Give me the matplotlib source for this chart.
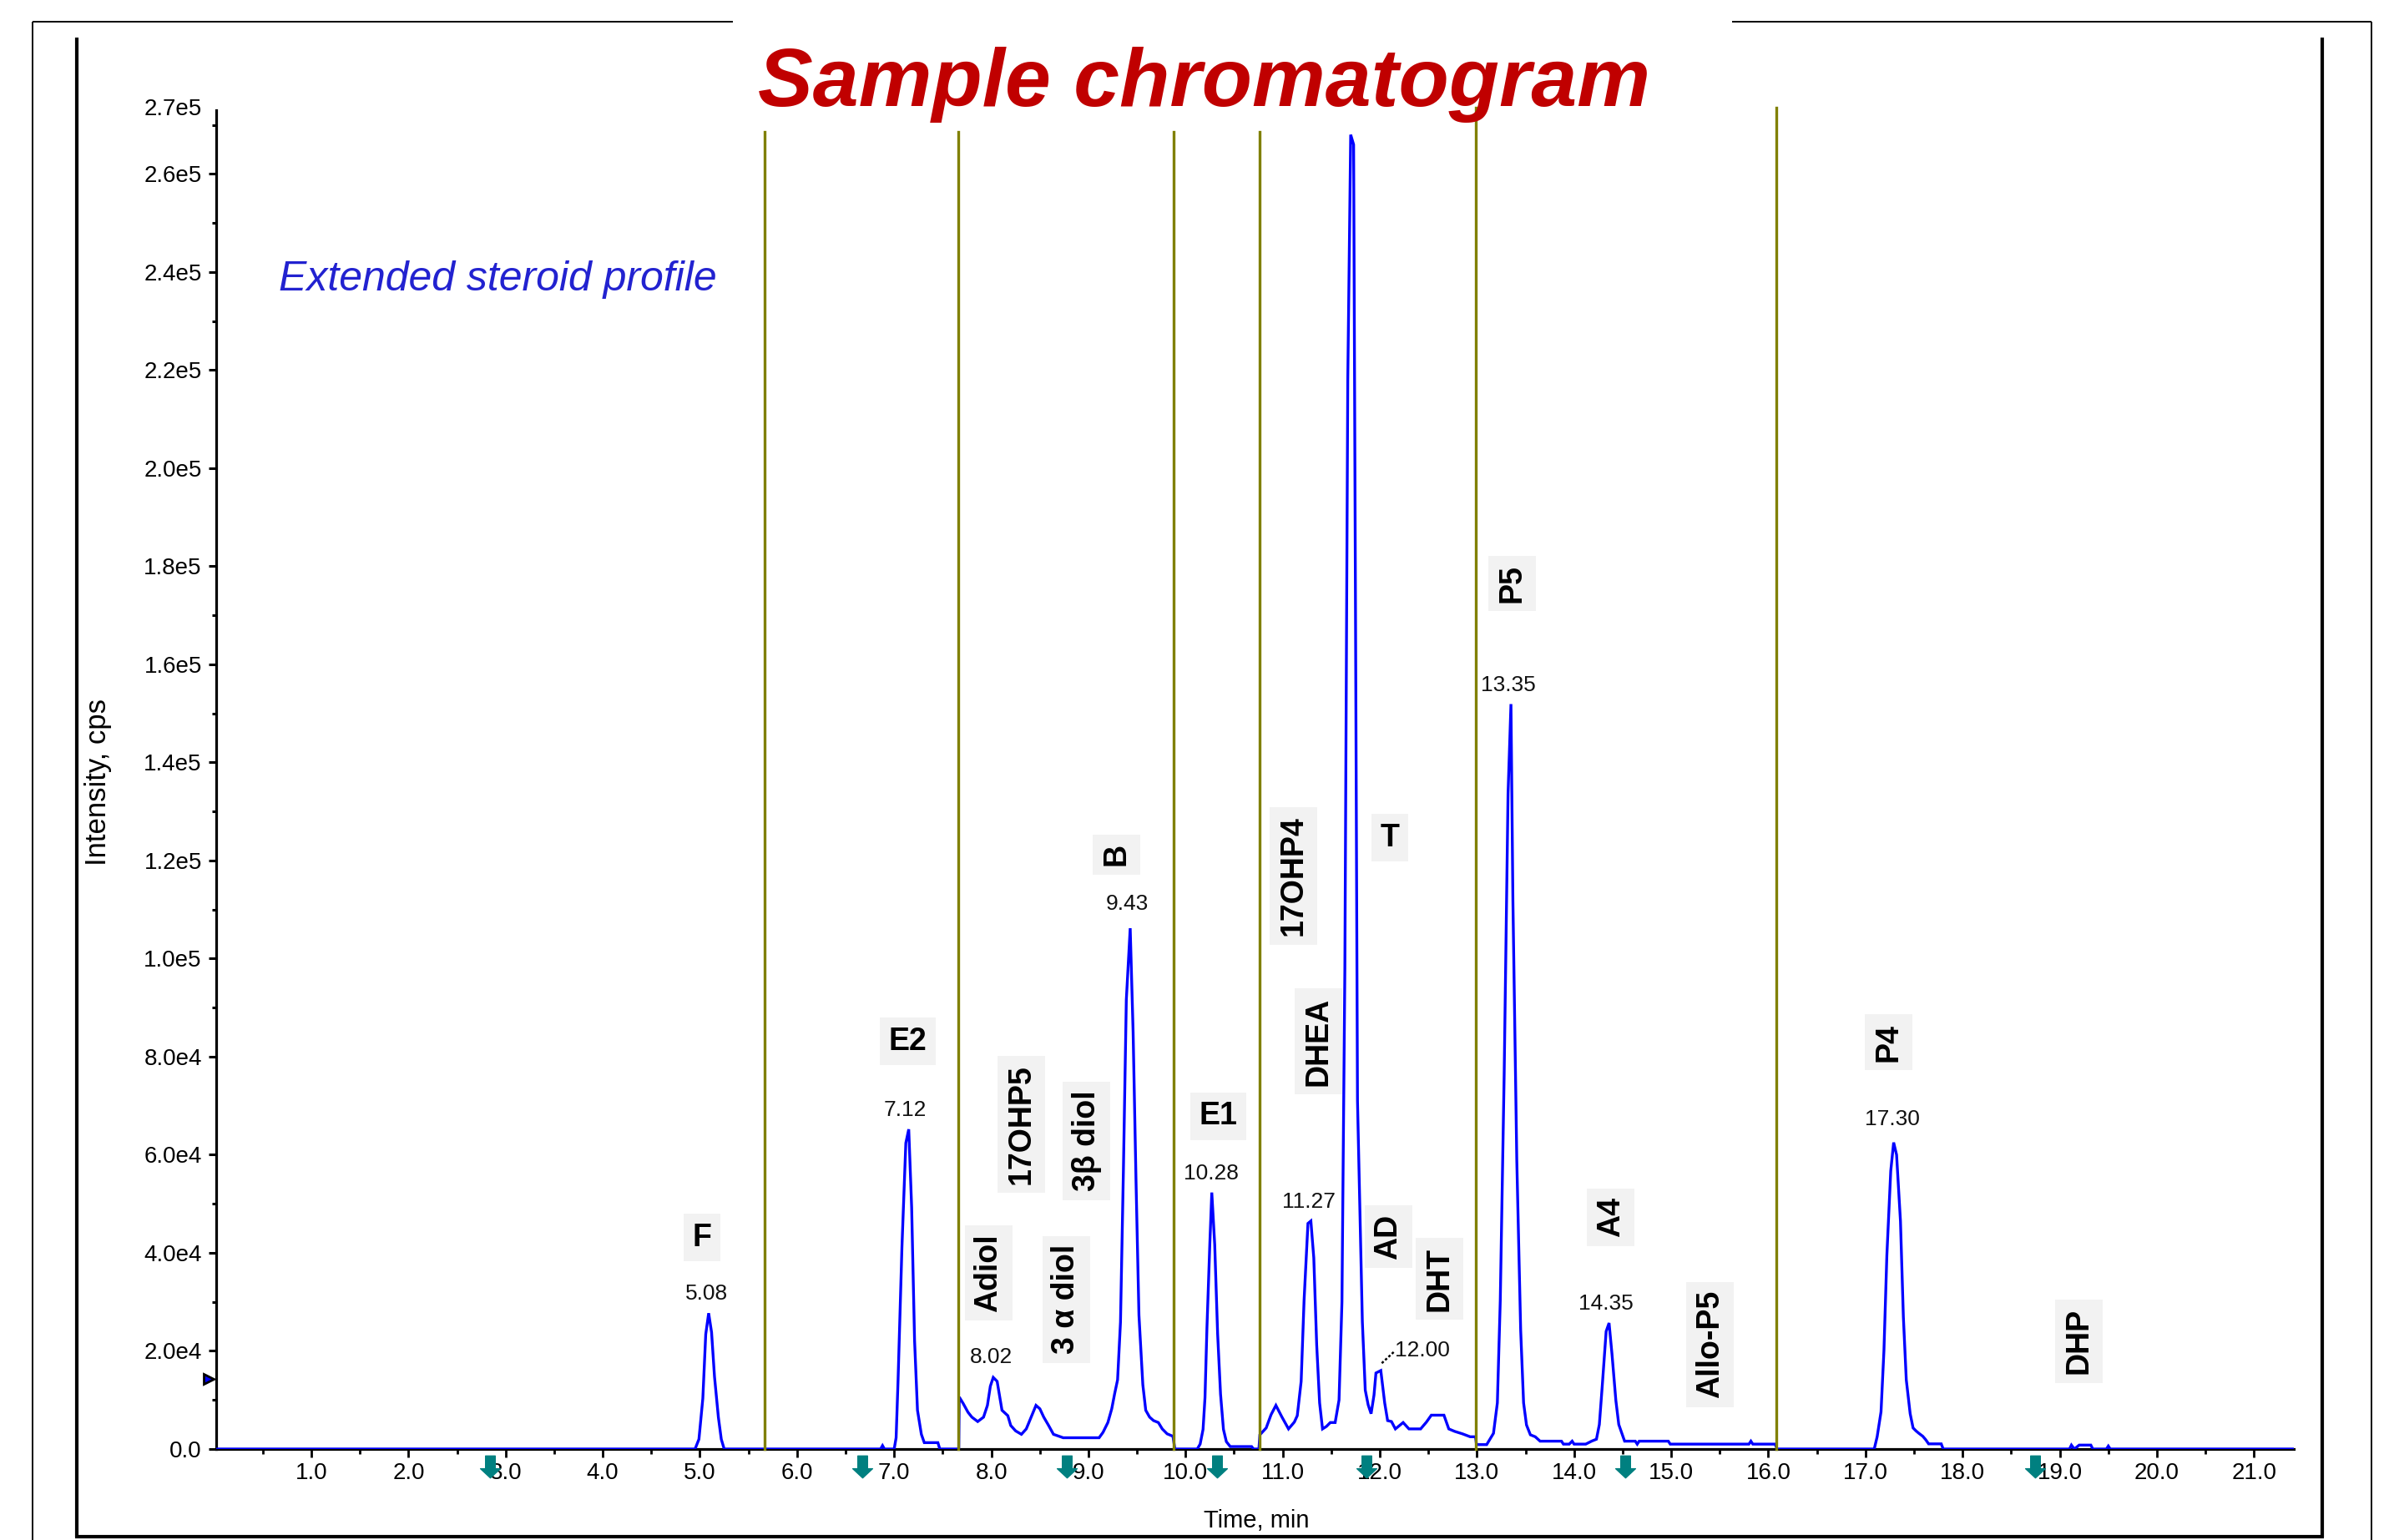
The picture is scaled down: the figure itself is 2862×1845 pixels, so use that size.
import matplotlib
matplotlib.use("Agg")
import matplotlib.pyplot as plt
from matplotlib.lines import Line2D
from matplotlib.path import Path

plt.rcParams['font.family'] = ['Liberation Sans', 'DejaVu Sans']

W, H, DPI = 2862, 1845, 100

# ---------------- data ----------------
time_min = [
    0.00, 4.95, 4.99, 5.03, 5.06, 5.09, 5.12, 5.15, 5.19, 5.22, 5.25,
    6.86, 6.88, 6.90, 7.00, 7.02, 7.04, 7.08, 7.12, 7.15, 7.18, 7.21, 7.24, 7.28, 7.31, 7.45, 7.47,
    7.665, 7.67, 7.71, 7.76, 7.80, 7.86, 7.92, 7.96, 7.99, 8.02, 8.06, 8.09, 8.11, 8.17, 8.20,
    8.25, 8.31, 8.36, 8.41, 8.46, 8.50, 8.54, 8.59, 8.64, 8.74, 9.11, 9.15, 9.20, 9.24, 9.27,
    9.30, 9.33, 9.36, 9.39, 9.43, 9.46, 9.49, 9.52, 9.56, 9.59, 9.63, 9.67, 9.72, 9.76, 9.81,
    9.87, 9.89,
    10.12, 10.15, 10.18, 10.20, 10.22, 10.25, 10.27, 10.30, 10.33, 10.36, 10.39, 10.42, 10.46,
    10.68, 10.70, 10.755,
    10.765, 10.83, 10.88, 10.93, 10.99, 11.06, 11.12, 11.15, 11.19, 11.22, 11.26, 11.29, 11.32,
    11.35, 11.38, 11.41, 11.45, 11.49, 11.54, 11.58, 11.61, 11.64, 11.67, 11.70, 11.73, 11.77,
    11.82, 11.85, 11.88, 11.91, 11.94, 11.96, 12.01, 12.05, 12.08, 12.12, 12.16, 12.24, 12.30,
    12.42, 12.48, 12.53, 12.66, 12.71, 12.77, 12.85, 12.93, 12.985,
    12.995, 13.10, 13.17, 13.21, 13.24, 13.28, 13.32, 13.35, 13.37, 13.41, 13.45, 13.48, 13.51,
    13.55, 13.60, 13.65, 13.87, 13.89, 13.95, 13.98, 14.00, 14.12, 14.18, 14.23, 14.26, 14.29,
    14.33, 14.36, 14.39, 14.43, 14.46, 14.49, 14.52, 14.63, 14.65, 14.67, 14.97, 14.99, 15.80,
    15.82, 15.84, 16.07, 16.09,
    17.09, 17.12, 17.16, 17.19, 17.22, 17.26, 17.29, 17.32, 17.36, 17.39, 17.42, 17.46, 17.49,
    17.52, 17.55, 17.59, 17.62, 17.65, 17.78, 17.80,
    19.10, 19.12, 19.15, 19.20, 19.32, 19.34, 19.48, 19.50, 19.52, 21.41,
]
intensity_cps = [
    0, 0, 2000, 10300, 23400, 27700, 23800, 14800, 6500, 2000, 0,
    0, 700, 0, 0, 2300, 14000, 41200, 62400, 65200, 49200, 22100, 7900, 3000, 1300, 1300, 0,
    0, 10600, 9300, 7500, 6500, 5600, 6500, 8900, 12800, 14600, 13800, 10300, 7900, 6800, 4800,
    3700, 3000, 4100, 6500, 8900, 8200, 6500, 4800, 3000, 2300, 2300, 3400, 5400, 8200, 11300,
    14100, 25900, 56800, 91600, 106200, 85000, 54500, 27300, 13100, 7900, 6500, 5800, 5400, 4100, 3100,
    2600, 0,
    0, 1000, 4000, 10500, 24700, 42000, 52300, 41700, 23500, 11200, 4000, 1500, 500,
    500, 0, 0,
    2900, 4300, 7000, 8900, 6600, 4100, 5500, 6800, 13800, 30300, 46000, 46500, 39000,
    21200, 9400, 4100, 4600, 5400, 5400, 10000, 30000, 98000, 218000, 268000, 266000, 71000,
    26000, 12000, 9000, 7200, 11000, 15500, 16000, 9400, 5800, 5600, 4100, 5400, 4100,
    4100, 5500, 6900, 6900, 4100, 3600, 3100, 2500, 2500,
    900, 900, 3200, 9400, 30300, 76300, 133600, 151900, 111900, 58900, 24200, 9400, 4900,
    2900, 2500, 1600, 1600, 1000, 1000, 1600, 1000, 1000, 1600, 2000, 5000, 12900,
    24000, 25700, 19400, 9900, 5000, 3300, 1600, 1600, 1000, 1600, 1600, 1000, 1000,
    1600, 1000, 1000, 0,
    0, 2500, 7600, 20100, 39500, 56700, 62500, 60000, 46500, 26900, 14100, 7200, 4300,
    3700, 3200, 2600, 1900, 1050, 1050, 0,
    0, 800, 0, 800, 800, 0, 0, 600, 0, 0,
]

# integration window boundaries (min) and how high they reach (cps)
window_bounds = [5.67, 7.66, 9.88, 10.76, 12.99, 16.08]
window_tops = [2.686e5, 2.686e5, 2.686e5, 2.686e5, 2.735e5, 2.735e5]

# expected retention time markers (min)
marker_times = [2.84, 6.67, 8.78, 10.32, 11.86, 14.53, 18.75]

# compound labels: name, time, intensity, rotated
compound_names = ["F", "E2", "Adiol", "17OHP5", "3β diol", "3 α diol", "B", "E1",
                  "17OHP4", "DHEA", "T", "AD", "DHT", "P5", "A4", "Allo-P5", "P4", "DHP"]
compound_t = [5.02, 7.14, 7.97, 8.31, 8.98, 8.77, 9.29, 10.34,
              11.11, 11.37, 12.10, 12.09, 12.61, 13.36, 14.38, 15.40, 17.24, 19.20]
compound_i = [43100, 83100, 35900, 66200, 62800, 30500, 121200, 67900,
              116900, 83100, 124600, 43300, 34700, 176500, 47300, 21300, 82900, 22000]
compound_rot = [0, 0, 90, 90, 90, 90, 90, 0,
                90, 90, 0, 90, 90, 90, 90, 90, 90, 90]

# retention time labels
rt_labels = ["5.08", "7.12", "8.02", "9.43", "10.28", "11.27", "12.00", "13.35", "14.35", "17.30"]
rt_t = [5.07, 7.11, 8.00, 9.40, 10.26, 11.27, 12.44, 13.32, 14.33, 17.28]
rt_i = [31700, 69100, 18700, 111100, 56200, 50400, 20100, 155700, 29600, 67200]

# axis ticks
x_major = [float(v) for v in range(1, 22)]
x_major_labels = ["%.1f" % v for v in x_major]
x_minor = [v + 0.5 for v in range(0, 21)]
y_major = [0, 2e4, 4e4, 6e4, 8e4, 1.0e5, 1.2e5, 1.4e5, 1.6e5, 1.8e5, 2.0e5, 2.2e5, 2.4e5, 2.6e5]
y_major_labels = ["0.0", "2.0e4", "4.0e4", "6.0e4", "8.0e4", "1.0e5", "1.2e5", "1.4e5",
                  "1.6e5", "1.8e5", "2.0e5", "2.2e5", "2.4e5", "2.6e5"]
y_minor = [1e4, 3e4, 5e4, 9e4, 1.1e5, 1.3e5, 1.5e5, 1.7e5, 2.3e5, 2.5e5, 2.7e5]
y_top_label = "2.7e5"
threshold_level = 1.43e4

# ---------------- figure ----------------
fig = plt.figure(figsize=(W / DPI, H / DPI), dpi=DPI)
fig.patch.set_facecolor("white")

ax_l, ax_r, ax_t, ax_b = 259, 2748, 132, 1736
ax = fig.add_axes([ax_l / W, 1 - ax_b / H, (ax_r - ax_l) / W, (ax_b - ax_t) / H])
ax.set_xlim(0.02, 21.41)
ax.set_ylim(0, 2.73e5)
for s in ("top", "right"):
    ax.spines[s].set_visible(False)
for s in ("left", "bottom"):
    ax.spines[s].set_linewidth(2.3)
    ax.spines[s].set_color("black")

ax.set_xticks(x_major)
ax.set_xticklabels(x_major_labels)
ax.set_xticks(x_minor, minor=True)
ax.set_yticks(y_major)
ax.set_yticklabels(y_major_labels)
ax.set_yticks(y_minor, minor=True)
ax.tick_params(axis="x", which="major", direction="out", length=7.2, width=2.0, pad=4.5, labelsize=20)
ax.tick_params(axis="x", which="minor", direction="out", length=4.2, width=2.0)
ax.tick_params(axis="y", which="major", direction="out", length=6.6, width=2.2, pad=5.8, labelsize=20)
ax.tick_params(axis="y", which="minor", direction="out", length=3.8, width=2.2)
ax.text(-0.0068, 2.732e5, y_top_label, transform=ax.get_yaxis_transform(),
        ha="right", va="center", fontsize=20)

# chromatogram trace
ax.plot(time_min, intensity_cps, color="#0000FF", lw=2.4, zorder=3, solid_joinstyle="miter")

# window boundary lines
for xb, top in zip(window_bounds, window_tops):
    ax.plot([xb, xb], [0, top], color="#808000", lw=2.4, zorder=4, clip_on=False)

# expected retention markers (teal down arrows below axis)
arrow_path = Path([(-0.22, 0.5), (0.22, 0.5), (0.22, -0.08), (0.45, -0.08), (0.0, -0.5),
                   (-0.45, -0.08), (-0.22, -0.08), (-0.22, 0.5)], closed=True)
ax.plot(marker_times, [-0.0134] * len(marker_times), transform=ax.get_xaxis_transform(),
        ls="none", marker=arrow_path, markersize=19, color="#008080", clip_on=False, zorder=5)

# threshold marker at left of y-axis
ax.plot([-0.0036], [threshold_level], transform=ax.get_yaxis_transform(), marker=">",
        markersize=9, mfc="#0000FF", mec="black", mew=2, ls="none", clip_on=False, zorder=5)

# compound labels
for name, t, i, rot in zip(compound_names, compound_t, compound_i, compound_rot):
    ax.text(t, i, name, rotation=rot, ha="center", va="center", fontsize=27,
            fontweight="bold", color="black", zorder=6,
            bbox=dict(boxstyle="square,pad=0.28", fc="#F2F2F2", ec="none"))

# retention time labels
for lab, t, i in zip(rt_labels, rt_t, rt_i):
    ax.text(t, i, lab, ha="center", va="center", fontsize=19, color="#111111", zorder=6)
# leader for 12.00
ax.plot([12.02, 12.15], [17500, 19900], color="black", lw=1.8, ls=(0, (1.2, 1.0)), zorder=6)

ax.text(2.92, 2.384e5, "Extended steroid profile", ha="center", va="center",
        fontsize=36, fontstyle="italic", color="#2222D0")

# axis titles
fig.text(118 / W, 1 - 937 / H, "Intensity, cps", rotation=90, ha="center", va="center", fontsize=25)
fig.text(1505 / W, 1 - 1822 / H, "Time, min", ha="center", va="center", fontsize=21)

# title
fig.text(1442 / W, 1 - 127 / H, "Sample chromatogram", ha="center", va="baseline",
         fontsize=71, fontweight="bold", fontstyle="italic", color="#C00000")

# frames
def fline(x1, y1, x2, y2, lw):
    fig.add_artist(Line2D([x1 / W, x2 / W], [1 - y1 / H, 1 - y2 / H], transform=fig.transFigure,
                          color="black", lw=lw, solid_capstyle="butt"))

# outer thin frame (top broken by the title)
fline(39, 26, 39, 1845, 1.4)
fline(2841, 26, 2841, 1845, 1.4)
fline(39, 26, 878, 26, 1.4)
fline(2075, 26, 2841, 26, 1.4)
# inner thick frame
fline(92, 45, 92, 1842, 3.0)
fline(2782, 45, 2782, 1842, 3.0)
fline(90, 1841, 2784, 1841, 3.0)

fig.savefig("out.png", dpi=DPI, facecolor="white")
